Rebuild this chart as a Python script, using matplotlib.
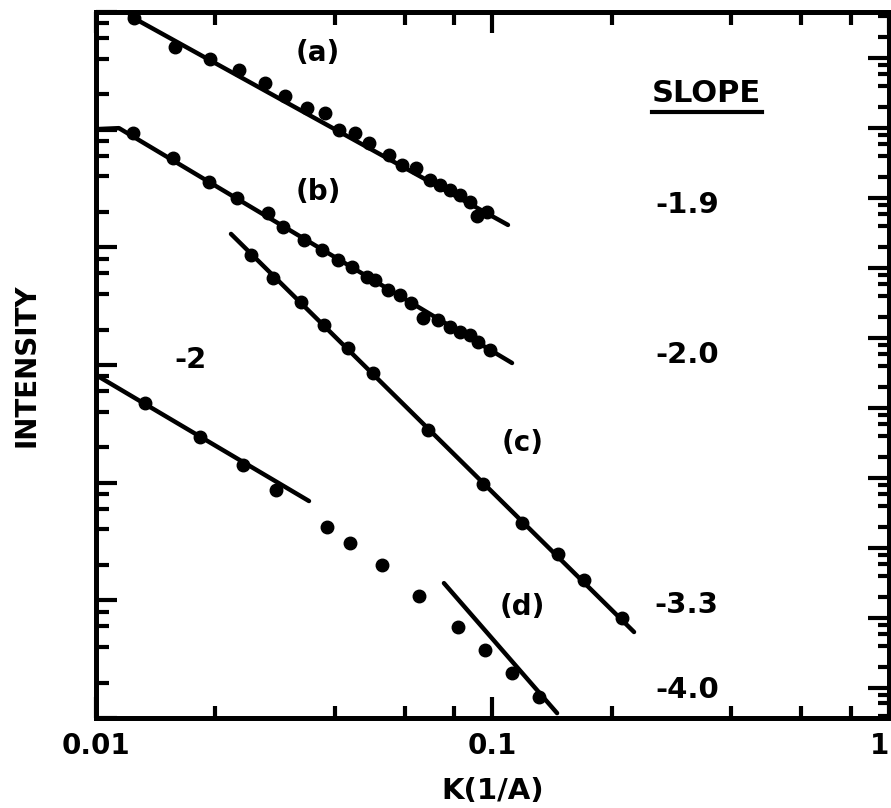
import matplotlib
matplotlib.use("Agg")
import matplotlib.pyplot as plt
from matplotlib.ticker import LogLocator, NullFormatter, FixedLocator, FixedFormatter

# --- data (K in 1/A, intensity in arbitrary units) ---
ka = [0.0125, 0.0158, 0.0194, 0.0229, 0.0267, 0.0300, 0.0341, 0.0378, 0.0410, 0.0450,
      0.0488, 0.0548, 0.0591, 0.0641, 0.0696, 0.0737, 0.0781, 0.0828, 0.0878, 0.0914, 0.0969]
ia = [8.89e5, 5.04e5, 3.98e5, 3.21e5, 2.49e5, 1.93e5, 1.53e5, 1.38e5, 9.93e4, 9.36e4,
      7.7e4, 6.09e4, 5.01e4, 4.72e4, 3.73e4, 3.39e4, 3.07e4, 2.78e4, 2.43e4, 1.85e4, 2.0e4]

kb = [0.0124, 0.0156, 0.0193, 0.0227, 0.0272, 0.0296, 0.0335, 0.0372, 0.0408, 0.0442, 0.0483,
      0.0506, 0.0545, 0.0584, 0.0623, 0.0668, 0.0729, 0.0781, 0.0828, 0.0878, 0.0919, 0.0986]
ib = [9.36e4, 5.74e4, 3.59e4, 2.62e4, 1.96e4, 1.49e4, 1.15e4, 9.49e3, 7.8e3, 6.8e3, 5.6e3,
      5.27e3, 4.34e3, 3.93e3, 3.36e3, 2.51e3, 2.41e3, 2.10e3, 1.91e3, 1.80e3, 1.57e3, 1.34e3]

kc = [0.0246, 0.0280, 0.0329, 0.0376, 0.0432, 0.0500, 0.0688, 0.0946, 0.119, 0.146, 0.170, 0.212]
ic = [8.6e3, 5.49e3, 3.43e3, 2.19e3, 1.39e3, 855, 280, 97.4, 45.4, 24.8, 14.9, 7.08]

kd = [0.0133, 0.0183, 0.0235, 0.0284, 0.0383, 0.0437, 0.0526, 0.0653, 0.0818, 0.0957, 0.112, 0.131]
idd = [475, 244, 141, 86.6, 42.0, 30.7, 20.0, 10.9, 5.94, 3.78, 2.41, 1.51]

# fitted power-law lines (end points)
fit_a_k = [0.01218, 0.1094]
fit_a_i = [9.25e5, 1.55e4]
fit_b_k = [0.0100, 0.01143, 0.1120]
fit_b_i = [1.01e5, 1.03e5, 1.04e3]
fit_c_k = [0.0219, 0.2275]
fit_c_i = [1.30e4, 5.38]
fit_d1_k = [0.0100, 0.03445]
fit_d1_i = [822, 69.8]
fit_d2_k = [0.07543, 0.1455]
fit_d2_i = [14.0, 1.10]

curve_labels = ["(a)", "(b)", "(c)", "(d)"]
slopes = ["-1.9", "-2.0", "-3.3", "-4.0"]
xtick_vals = [0.01, 0.1, 1]
xtick_text = ["0.01", "0.1", "1"]

plt.rcParams['font.family'] = ['DejaVu Sans']
plt.rcParams['font.weight'] = 'bold'

fig = plt.figure(figsize=(8.91, 8.08), dpi=100)
ax = fig.add_axes([96 / 891, 90 / 808, 793 / 891, 706 / 808])
ax.set_xscale('log')
ax.set_yscale('log')
ax.set_xlim(0.01, 1)
ax.set_ylim(1, 1e6)

lw = 3.2
ms = 9
for k, i in [(fit_a_k, fit_a_i), (fit_b_k, fit_b_i), (fit_c_k, fit_c_i),
             (fit_d1_k, fit_d1_i), (fit_d2_k, fit_d2_i)]:
    ax.plot(k, i, color='black', lw=lw, solid_capstyle='round')
for k, i in [(ka, ia), (kb, ib), (kc, ic), (kd, idd)]:
    ax.plot(k, i, 'o', color='black', ms=ms, mec='black')

# axis styling
for s in ax.spines.values():
    s.set_linewidth(3.5)
ax.xaxis.set_major_locator(FixedLocator(xtick_vals))
ax.xaxis.set_major_formatter(FixedFormatter(xtick_text))
ax.xaxis.set_minor_locator(LogLocator(base=10, subs=[2, 4, 6, 8]))
ax.xaxis.set_minor_formatter(NullFormatter())
ax.yaxis.set_major_locator(LogLocator(base=10, numticks=10))
ax.yaxis.set_minor_locator(LogLocator(base=10, subs=[2, 4, 6, 8], numticks=20))
ax.yaxis.set_major_formatter(NullFormatter())
ax.yaxis.set_minor_formatter(NullFormatter())
ax.tick_params(which='both', direction='in', top=True, right=False, width=3)
ax.tick_params(which='major', length=15, labelsize=20, pad=10)
ax.tick_params(which='minor', length=9)

# right axis has its own (finer) decade spacing in the original
axr = ax.twinx()
axr.set_yscale('log')
axr.set_ylim(10 ** 0.571, 10 ** 10.657)
axr.yaxis.set_major_locator(LogLocator(base=10, numticks=15))
axr.yaxis.set_minor_locator(LogLocator(base=10, subs=[2, 4, 6, 8], numticks=30))
axr.yaxis.set_major_formatter(NullFormatter())
axr.yaxis.set_minor_formatter(NullFormatter())
axr.tick_params(which='both', direction='in', width=3)
axr.tick_params(which='major', length=15)
axr.tick_params(which='minor', length=8)
for s in axr.spines.values():
    s.set_linewidth(3.5)

# keep the "1" label inside the canvas
fig.canvas.draw()
ax.get_xticklabels()[-1].set_horizontalalignment('right')

ax.set_xlabel("K(1/A)", fontsize=21, fontweight='bold', labelpad=12)
ax.set_ylabel("INTENSITY", fontsize=20, fontweight='bold', labelpad=30)

# curve labels and slopes
lab_pos = [(0.280, 0.942), (0.280, 0.745), (0.538, 0.390), (0.538, 0.157)]
slope_pos = [(0.746, 0.727), (0.746, 0.514), (0.745, 0.160), (0.745, 0.040)]
for t, (x, y) in zip(curve_labels, lab_pos):
    ax.text(x, y, t, transform=ax.transAxes, ha='center', va='center', fontsize=20, fontweight='bold')
for t, (x, y) in zip(slopes, slope_pos):
    ax.text(x, y, t, transform=ax.transAxes, ha='center', va='center', fontsize=21, fontweight='bold')
ax.text(0.770, 0.885, "SLOPE", transform=ax.transAxes, ha='center', va='center', fontsize=22, fontweight='bold')
ax.plot([0.701, 0.840], [0.858, 0.858], transform=ax.transAxes, color='black', lw=3, clip_on=False)
ax.text(0.119, 0.507, "-2", transform=ax.transAxes, ha='center', va='center', fontsize=21, fontweight='bold')

fig.savefig("out.png", dpi=100)
